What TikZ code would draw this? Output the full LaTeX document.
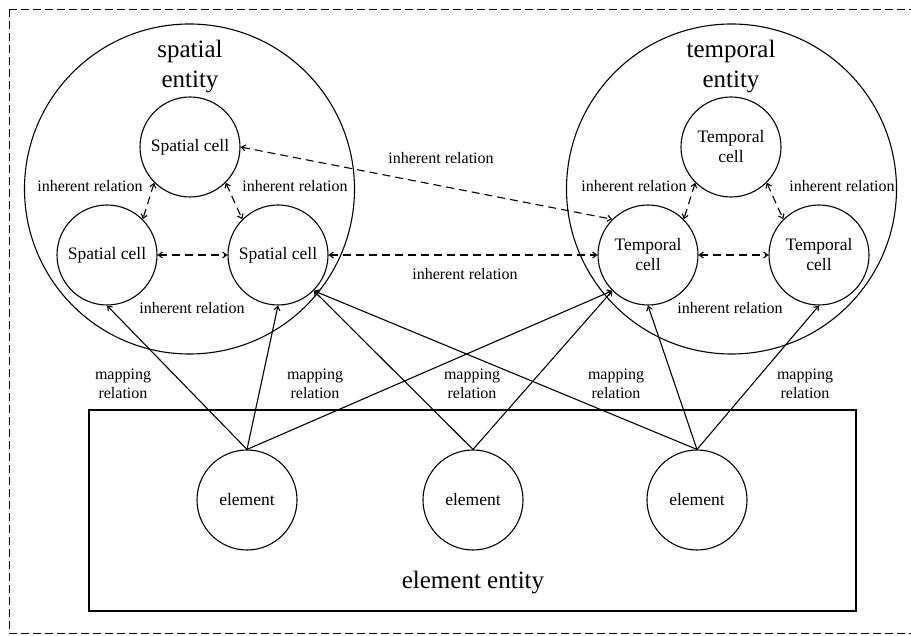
\documentclass[tikz,border=0pt]{standalone}
\usepackage{fontspec}
\setmainfont{Liberation Serif}
\usetikzlibrary{automata, positioning, arrows.meta}

\begin{document}
\begin{tikzpicture}[
        x=1pt, y=-1pt,
        >={Straight Barb[length=4pt, width=6pt]},
        line width=1.1pt,
        % --- sizes of the circles and texts ---
        every state/.style={
            draw, minimum size=100pt, inner sep=1pt, line width=1.1pt,
            font=\fontsize{17.5}{20}\selectfont, align=center
        },
        entity/.style={circle, draw, minimum size=330pt, inner sep=0pt},
        bigtext/.style={font=\fontsize{25}{30}\selectfont, align=center, inner sep=0pt},
        reltext/.style={font=\fontsize{16}{18.5}\selectfont, align=center, inner sep=0pt},
        inherent/.style={<->, dash pattern=on 8pt off 5pt},
        mapping/.style={->}
    ]
    \useasboundingbox (0,0) rectangle (911,636);

    % ==================== 1. FRAMES ====================
    \draw[dash pattern=on 8pt off 4pt, line width=0.9pt] (9,9) rectangle (925,633);
    \node[draw, minimum width=767pt, minimum height=201pt, inner sep=0pt] (elembox) at (472.5,510.5) {};
    \node[bigtext, anchor=base] (elemlabel) at (473,588) {element entity};

    % Entities
    \node[entity] (spatial)  at (189.5,189) {};
    \node[entity] (temporal) at (731.5,189) {};
    \node[bigtext] (spatiallabel)  at (190,67) {spatial\\entity};
    \node[bigtext] (temporallabel) at (731,67) {temporal\\entity};

    % ==================== 2. CELLS ====================
    \node[state] (stop)   at (190,147) {Spatial cell};
    \node[state] (sleft)  at (107,255) {Spatial cell};
    \node[state] (sright) at (278,255) {Spatial cell};

    \node[state] (ttop)   at (731,147) {Temporal\\cell};
    \node[state] (tleft)  at (648,255) {Temporal\\cell};
    \node[state] (tright) at (819,255) {Temporal\\cell};

    \node[state] (eleft)  at (247,500) {element};
    \node[state] (emid)   at (473,500) {element};
    \node[state] (eright) at (697,500) {element};

    % ==================== 3. RELATIONS ====================
    \path[every edge/.style={draw, inherent}]
        (stop.south west)  edge (sleft.north east)
        (stop.south east)  edge (sright.north west)
        (sleft.east)       edge (sright.west)
        (stop.east)        edge (tleft.north west)
        (sright.east)      edge (tleft.west)
        (ttop.south west)  edge (tleft.north east)
        (ttop.south east)  edge (tright.north west)
        (tleft.east)       edge (tright.west);

    \path[every edge/.style={draw, mapping}]
        (eleft.north)  edge (sleft.south)
                       edge (sright.south)
                       edge (tleft.south west)
        (emid.north)   edge (sright.south east)
                       edge (tleft.south west)
        (eright.north) edge (sright.south east)
                       edge (tleft.south)
                       edge (tright.south);

    % Labels
    \node[reltext] (ir1) at (90,186)  {inherent relation};
    \node[reltext] (ir2) at (295,186) {inherent relation};
    \node[reltext] (ir3) at (192,308) {inherent relation};
    \node[reltext] (ir4) at (441,158) {inherent relation};
    \node[reltext] (ir5) at (465,274) {inherent relation};
    \node[reltext] (ir6) at (634,186) {inherent relation};
    \node[reltext] (ir7) at (842,186) {inherent relation};
    \node[reltext] (ir8) at (730,308) {inherent relation};

    \node[reltext] (mr1) at (123,384) {mapping\\relation};
    \node[reltext] (mr2) at (315,384) {mapping\\relation};
    \node[reltext] (mr3) at (472,384) {mapping\\relation};
    \node[reltext] (mr4) at (616,384) {mapping\\relation};
    \node[reltext] (mr5) at (805,384) {mapping\\relation};

\end{tikzpicture}
\end{document}
